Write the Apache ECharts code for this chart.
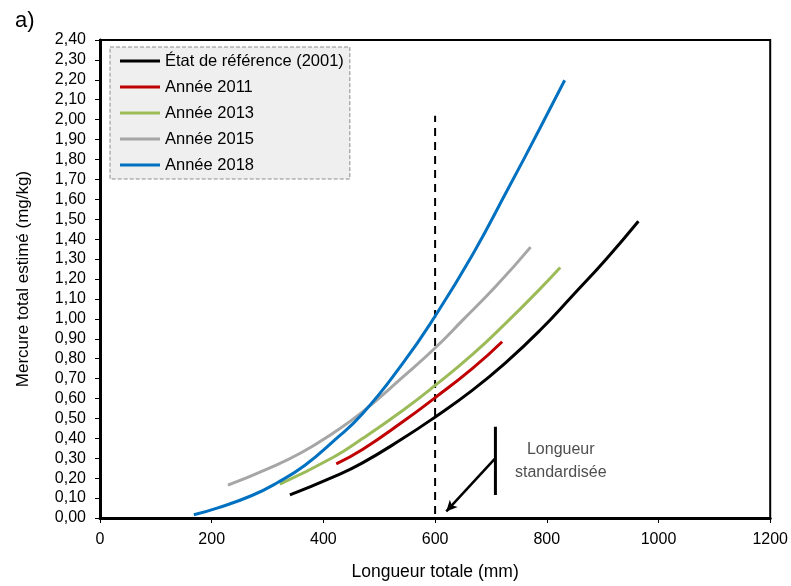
<!DOCTYPE html>
<html>
<head>
<meta charset="utf-8">
<script src="https://cdn.jsdelivr.net/npm/echarts@6/dist/echarts.min.js"></script>
<style>
  html, body { margin: 0; padding: 0; background: #fff; }
  #main { width: 791px; height: 586px; }
</style>
</head>
<body>
<div id="main"></div>
<script>
// valeurs (longueur en mm, mercure en mg/kg)
var ref2001_x = [340, 417, 470, 542, 599, 667, 728, 787, 846, 907, 964];
var ref2001_y = [0.116, 0.205, 0.277, 0.399, 0.505, 0.642, 0.784, 0.940, 1.116, 1.302, 1.490];

var an2011_x = [423, 470, 542, 599, 667, 720];
var an2011_y = [0.272, 0.344, 0.483, 0.602, 0.751, 0.885];

var an2013_x = [322, 417, 470, 542, 599, 667, 728, 787, 824];
var an2013_y = [0.170, 0.304, 0.399, 0.540, 0.663, 0.821, 0.982, 1.148, 1.258];

var an2015_x = [229, 300, 361, 417, 470, 542, 599, 649, 710, 771];
var an2015_y = [0.165, 0.247, 0.329, 0.426, 0.533, 0.707, 0.851, 0.992, 1.167, 1.360];

var an2018_x = [168, 211, 272, 318, 367, 417, 470, 542, 599, 667, 728, 787, 832];
var an2018_y = [0.016, 0.051, 0.113, 0.178, 0.265, 0.384, 0.523, 0.776, 1.009, 1.322, 1.639, 1.953, 2.198];

var seriesNames = ['État de référence (2001)', 'Année 2011', 'Année 2013', 'Année 2015', 'Année 2018'];
var seriesColors = ['#000000', '#c00000', '#9bbb59', '#a6a6a6', '#0070c0'];

// longueur standardisée + annotation
var stdLine = [[600, 0.02], [600, 2.02]];
var stdBar = [[708, 0.116], [708, 0.458]];
var stdArrow = [[708, 0.301], [620, 0.033]];
var stdLabelPos = [[825, 0.285]];

var xTicks = { min: 0, max: 1200, step: 200 };
var yTicks = { min: 0, max: 2.4, step: 0.1 };

function zip(xs, ys) {
    var out = [];
    for (var i = 0; i < xs.length; i++) out.push([xs[i], ys[i]]);
    return out;
}

var allData = [
    zip(ref2001_x, ref2001_y),
    zip(an2011_x, an2011_y),
    zip(an2013_x, an2013_y),
    zip(an2015_x, an2015_y),
    zip(an2018_x, an2018_y)
];

var font = 'Liberation Sans, Arial, sans-serif';

var series = [];
for (var i = 0; i < seriesNames.length; i++) {
    series.push({
        name: seriesNames[i],
        type: 'line',
        smooth: 0.5,
        showSymbol: false,
        symbol: 'none',
        data: allData[i],
        lineStyle: { color: seriesColors[i], width: 3 },
        itemStyle: { color: seriesColors[i] },
        z: 3
    });
}

series.push({
    name: 'std',
    type: 'line',
    symbol: 'none',
    data: stdLine,
    lineStyle: { color: '#000', width: 2, type: [8, 6] },
    z: 2
});

series.push({
    name: 'bar',
    type: 'line',
    symbol: 'none',
    data: stdBar,
    lineStyle: { color: '#000', width: 3 },
    markLine: {
        silent: true,
        symbol: ['none', 'arrow'],
        symbolSize: [8, 11],
        label: { show: false },
        lineStyle: { color: '#000', width: 2.5, type: 'solid' },
        data: [[{ coord: stdArrow[0] }, { coord: stdArrow[1] }]]
    },
    z: 2
});

series.push({
    name: 'label',
    type: 'scatter',
    symbolSize: 0,
    data: stdLabelPos,
    label: {
        show: true,
        position: 'inside',
        formatter: 'Longueur\nstandardisée',
        color: '#222',
        fontFamily: font,
        fontSize: 16,
        lineHeight: 23,
        align: 'center'
    }
});

var myChart = echarts.init(document.getElementById('main'));
var option = {
    animation: false,
    backgroundColor: '#fff',
    title: {
        text: 'a)',
        left: 10,
        top: 5,
        textStyle: { fontFamily: font, fontSize: 22, fontWeight: 'normal', color: '#000' }
    },
    grid: {
        left: 100, right: 20, top: 40, bottom: 63,
        show: true, borderColor: '#000', borderWidth: 2
    },
    legend: {
        data: seriesNames,
        orient: 'vertical',
        left: 110,
        top: 47,
        padding: [5, 6, 5, 10],
        backgroundColor: '#efefef',
        borderColor: '#8c8c8c',
        borderWidth: 1,
        borderType: 'dashed',
        icon: 'rect',
        itemWidth: 40,
        itemHeight: 3,
        itemGap: 8,
        textStyle: { fontFamily: font, fontSize: 16.5, lineHeight: 18, color: '#000' }
    },
    xAxis: {
        type: 'value',
        min: xTicks.min, max: xTicks.max, interval: xTicks.step,
        name: 'Longueur totale (mm)',
        nameLocation: 'middle',
        nameGap: 45,
        nameTextStyle: { fontFamily: font, fontSize: 17.5, color: '#000' },
        axisLine: { show: true, lineStyle: { color: '#000', width: 3 } },
        axisTick: { show: true, length: 5, lineStyle: { color: '#000', width: 1 } },
        axisLabel: {
            fontFamily: font, fontSize: 16, color: '#000', margin: 14,
            formatter: function (v) { return String(v); }
        },
        splitLine: { show: false }
    },
    yAxis: {
        type: 'value',
        min: yTicks.min, max: yTicks.max, interval: yTicks.step,
        name: 'Mercure total estimé (mg/kg)',
        nameLocation: 'middle',
        nameGap: 68,
        nameTextStyle: { fontFamily: font, fontSize: 17, color: '#000' },
        axisLine: { show: true, lineStyle: { color: '#000', width: 3 } },
        axisTick: { show: true, length: 5, lineStyle: { color: '#000', width: 1 } },
        axisLabel: {
            fontFamily: font, fontSize: 16, color: '#000', margin: 14,
            formatter: function (v) { return v.toFixed(2).replace('.', ','); }
        },
        splitLine: { show: false }
    },
    series: series
};
myChart.setOption(option);
</script>
</body>
</html>
